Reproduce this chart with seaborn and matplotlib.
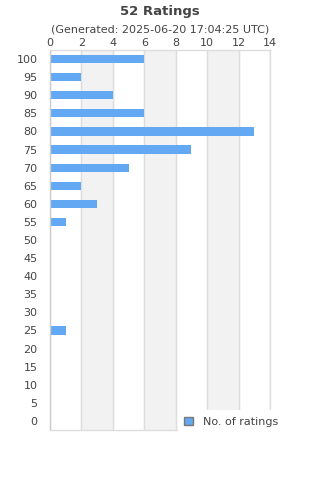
import seaborn as sns
import matplotlib.pyplot as plt
import pandas as pd

ratings = ['100', '95', '90', '85', '80', '75', '70', '65', '60', '55', '50',
           '45', '40', '35', '30', '25', '20', '15', '10', '5', '0']
counts = [6, 2, 4, 6, 13, 9, 5, 2, 3, 1, 0, 0, 0, 0, 0, 1, 0, 0, 0, 0, 0]
xticks = [0, 2, 4, 6, 8, 10, 12, 14]

df = pd.DataFrame({'rating': ratings, 'count': counts})

sns.set_style('white')
plt.rcParams['font.family'] = ['DejaVu Sans']
txt = '#444444'

fig = plt.figure(figsize=(3.2, 4.8), dpi=100)
ax = fig.add_axes([50/320, 1-430/480, 220/320, 380/480])

# alternating bands
for i in range(1, len(xticks) - 1, 2):
    ax.axvspan(xticks[i], xticks[i+1], color='#f2f2f2', zorder=0)
for x in xticks:
    ax.axvline(x, color='#dddddd', lw=1, zorder=1)

sns.barplot(data=df, x='count', y='rating', order=ratings, orient='h',
            color='#62a8f2', saturation=1, width=0.45, ax=ax, linewidth=0,
            label='No. of ratings', zorder=2)

ax.set_xlim(0, 14)
ax.set_xticks(xticks)
ax.xaxis.tick_top()
ax.tick_params(axis='x', length=0, pad=1.5, labelsize=8, labelcolor=txt)
ax.tick_params(axis='y', length=0, pad=9, labelsize=8, labelcolor=txt)
ax.set_xlabel('')
ax.set_ylabel('')
for s in ax.spines.values():
    s.set_color('#dddddd')
    s.set_linewidth(1)
ax.spines['left'].set_color('#cccccc')

fig.text(0.5, 1-11/480, '52 Ratings', ha='center', va='center',
         fontsize=9.5, fontweight='bold', color=txt)
fig.text(0.5, 1-29/480, '(Generated: 2025-06-20 17:04:25 UTC)', ha='center',
         va='center', fontsize=8, color=txt)

leg = ax.legend(loc='center left', bbox_to_anchor=(172/320, 1-422/480),
                bbox_transform=fig.transFigure, frameon=True, fontsize=8,
                handlelength=0.8, handleheight=0.8, borderpad=0.6,
                handletextpad=0.9)
leg.get_frame().set_facecolor('white')
leg.get_frame().set_edgecolor('white')
leg.get_frame().set_alpha(1)
leg.get_frame().set_boxstyle('square', pad=0)
for h in leg.legend_handles:
    h.set_edgecolor('#777777')
    h.set_linewidth(1)
for t in leg.get_texts():
    t.set_color(txt)

fig.savefig('out.png', dpi=100)
